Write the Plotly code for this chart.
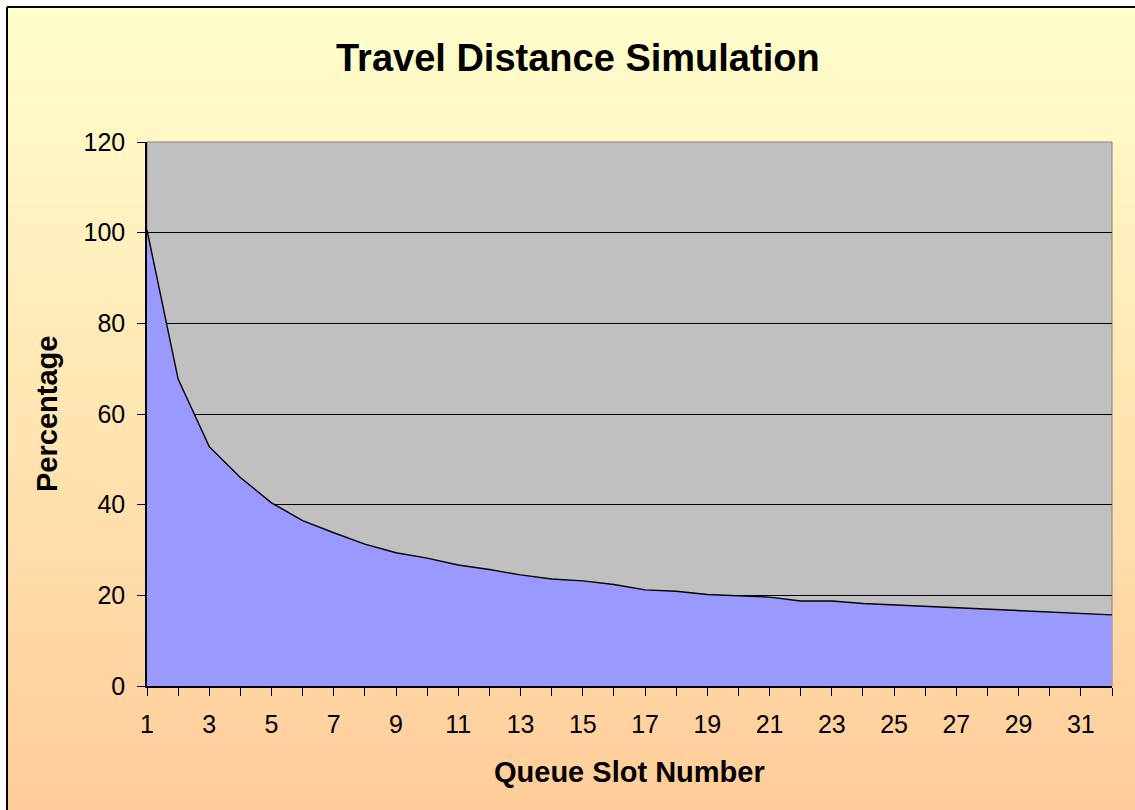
import base64
import struct
import zlib

import plotly.graph_objects as go

# ---------------- data ----------------
slots = list(range(1, 33))
pct = [100.6, 67.7, 52.8, 46.0, 40.4, 36.5, 33.8, 31.3, 29.4, 28.2, 26.7, 25.7,
       24.5, 23.6, 23.2, 22.4, 21.2, 20.9, 20.2, 19.9, 19.6, 18.75, 18.75, 18.2,
       17.9, 17.6, 17.3, 17.0, 16.6, 16.3, 16.0, 15.7]
x_tick_vals = list(range(1, 33, 2))
x_tick_text = [str(v) for v in x_tick_vals]
y_tick_vals = [0, 20, 40, 60, 80, 100, 120]

title_text = "Travel Distance Simulation"
x_title = "Queue Slot Number"
y_title = "Percentage"

# ---------------- layout geometry ----------------
W, H = 1135, 810
L, R, T, B = 147, 23, 142, 124
PW = W - L - R
PH = H - T - B


def px_to_paper_x(px):
    return (px - L) / PW


def py_to_paper_y(py):
    return (H - B - py) / PH


def gradient_png(h, c0, c1):
    raw = b""
    for i in range(h):
        t = i / (h - 1)
        rgb = bytes(int(round(c0[k] + (c1[k] - c0[k]) * t)) for k in range(3))
        raw += b"\x00" + rgb
    def chunk(tag, data):
        c = struct.pack(">I", len(data)) + tag + data
        return c + struct.pack(">I", zlib.crc32(tag + data) & 0xFFFFFFFF)
    png = b"\x89PNG\r\n\x1a\n"
    png += chunk(b"IHDR", struct.pack(">IIBBBBB", 1, h, 8, 2, 0, 0, 0))
    png += chunk(b"IDAT", zlib.compress(raw, 9))
    png += chunk(b"IEND", b"")
    return "data:image/png;base64," + base64.b64encode(png).decode()


FONT = "Liberation Sans, Arial, sans-serif"

fig = go.Figure()
fig.add_trace(go.Scatter(
    x=slots, y=pct, mode="lines", fill="tozeroy",
    fillcolor="#9999FF", line=dict(color="black", width=1.4),
    hoverinfo="x+y", showlegend=False,
))

fig.update_layout(
    width=W, height=H,
    margin=dict(l=L, r=R, t=T, b=B),
    paper_bgcolor="white",
    plot_bgcolor="rgba(0,0,0,0)",
    font=dict(family=FONT, color="black", size=25),
    xaxis=dict(
        range=[1, 32], tickvals=x_tick_vals, ticktext=x_tick_text,
        ticks="outside", ticklen=8, tickwidth=1, tickcolor="black",
        minor=dict(dtick=1, tick0=1, ticks="outside", ticklen=8, tickcolor="black", showgrid=False),
        showline=True, linecolor="black", linewidth=1.5,
        showgrid=False, zeroline=False,
        tickfont=dict(size=25, family=FONT),
        ticklabelstandoff=7,
        fixedrange=True,
    ),
    yaxis=dict(
        range=[0, 120], tickvals=y_tick_vals,
        ticks="outside", ticklen=8, tickwidth=1, tickcolor="black",
        showline=True, linecolor="black", linewidth=1.5,
        showgrid=True, gridcolor="black", gridwidth=1,
        zeroline=False,
        tickfont=dict(size=25, family=FONT),
        ticklabelstandoff=7,
        fixedrange=True,
    ),
    images=[dict(
        source=gradient_png(256, (255, 255, 204), (255, 204, 153)),
        xref="paper", yref="paper",
        x=px_to_paper_x(7), y=py_to_paper_y(7),
        sizex=(W + 5 - 7) / PW, sizey=(H + 5 - 7) / PH,
        xanchor="left", yanchor="top", sizing="stretch", layer="below",
    )],
    shapes=[
        dict(type="rect", xref="paper", yref="paper", x0=0, x1=1, y0=0, y1=1,
             fillcolor="#C0C0C0", line=dict(color="#808080", width=1), layer="below"),
        dict(type="line", xref="paper", yref="paper",
             x0=px_to_paper_x(7), x1=px_to_paper_x(W + 5), y0=py_to_paper_y(7), y1=py_to_paper_y(7),
             line=dict(color="black", width=2)),
        dict(type="line", xref="paper", yref="paper",
             x0=px_to_paper_x(7), x1=px_to_paper_x(7), y0=py_to_paper_y(7), y1=py_to_paper_y(H + 5),
             line=dict(color="black", width=2)),
    ],
    annotations=[
        dict(text="<b>%s</b>" % title_text, xref="paper", yref="paper",
             x=px_to_paper_x(577.5), y=py_to_paper_y(58), xanchor="center", yanchor="middle",
             showarrow=False, font=dict(size=38, family=FONT)),
        dict(text="<b>%s</b>" % x_title, xref="paper", yref="paper",
             x=px_to_paper_x(629), y=py_to_paper_y(772), xanchor="center", yanchor="middle",
             showarrow=False, font=dict(size=29, family=FONT)),
        dict(text="<b>%s</b>" % y_title, xref="paper", yref="paper",
             x=px_to_paper_x(47), y=py_to_paper_y(414), xanchor="center", yanchor="middle",
             textangle=-90, showarrow=False, font=dict(size=29, family=FONT)),
    ],
)

fig.write_html(
    "out.html",
    config={"displayModeBar": False},
    post_script="document.body.style.margin='0px';document.body.style.padding='0px';",
)
